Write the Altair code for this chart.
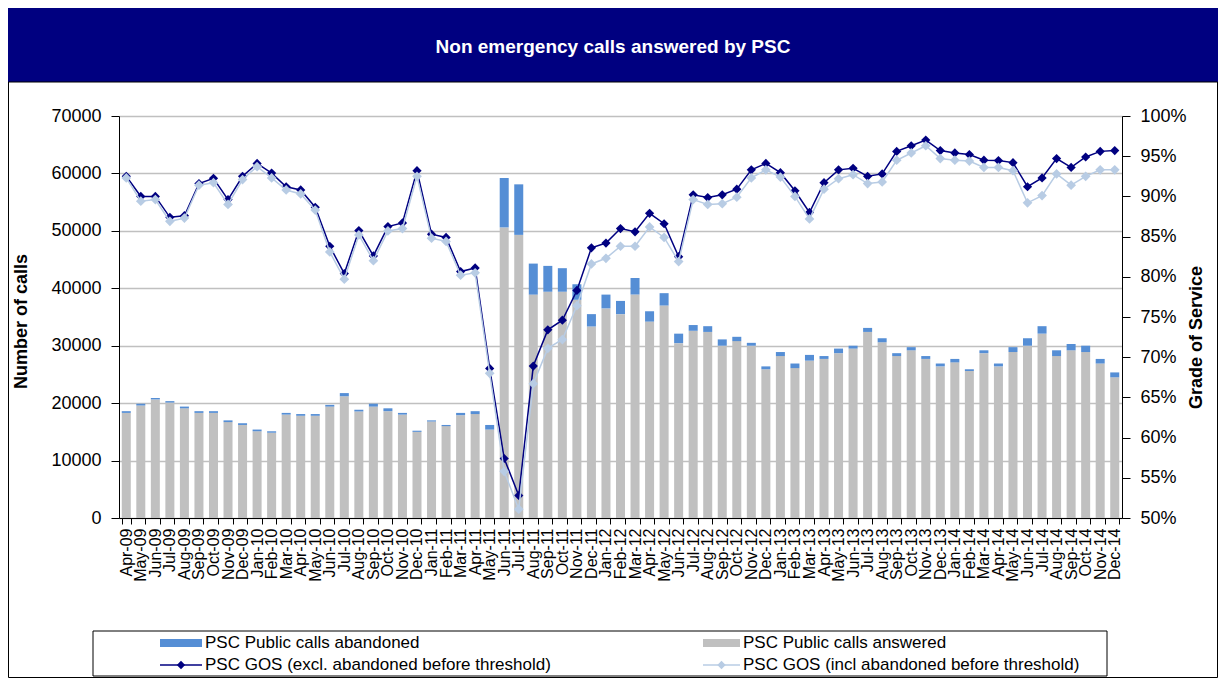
import altair as alt
import pandas as pd

# ---------------- data ----------------
months = [
    "Apr-09", "May-09", "Jun-09", "Jul-09", "Aug-09", "Sep-09", "Oct-09", "Nov-09", "Dec-09",
    "Jan-10", "Feb-10", "Mar-10", "Apr-10", "May-10", "Jun-10", "Jul-10", "Aug-10", "Sep-10", "Oct-10", "Nov-10", "Dec-10",
    "Jan-11", "Feb-11", "Mar-11", "Apr-11", "May-11", "Jun-11", "Jul-11", "Aug-11", "Sep-11", "Oct-11", "Nov-11", "Dec-11",
    "Jan-12", "Feb-12", "Mar-12", "Apr-12", "May-12", "Jun-12", "Jul-12", "Aug-12", "Sep-12", "Oct-12", "Nov-12", "Dec-12",
    "Jan-13", "Feb-13", "Mar-13", "Apr-13", "May-13", "Jun-13", "Jul-13", "Aug-13", "Sep-13", "Oct-13", "Nov-13", "Dec-13",
    "Jan-14", "Feb-14", "Mar-14", "Apr-14", "May-14", "Jun-14", "Jul-14", "Aug-14", "Sep-14", "Oct-14", "Nov-14", "Dec-14",
]

answered = [
    18300, 19600, 20650, 20100, 19100, 18300, 18300, 16700, 16200,
    15100, 14850, 18000, 17800, 17800, 19400, 21200, 18550, 19400, 18600, 18000, 15000,
    16800, 16000, 17900, 18100, 15400, 50600, 49300, 38900, 39400, 39400, 38000, 33350,
    36500, 35500, 38900, 34200, 37000, 30450, 32600, 32400, 30000, 30800, 30000, 25900,
    28200, 26100, 27400, 27700, 28700, 29500, 32400, 30600, 28200, 29200, 27700, 26400,
    27100, 25600, 28700, 26400, 28900, 30000, 32100, 28200, 29200, 28900, 26900, 24500,
]

abandoned = [
    300, 300, 250, 250, 300, 300, 300, 300, 300,
    300, 250, 300, 300, 300, 300, 550, 300, 500, 500, 300, 200,
    200, 200, 400, 500, 800, 8600, 8800, 5400, 4500, 4100, 2700, 2150,
    2400, 2300, 2900, 1800, 2150, 1650, 1000, 1000, 1100, 750, 500, 500,
    700, 800, 1000, 500, 800, 500, 700, 700, 500, 550, 500, 500,
    600, 300, 500, 500, 850, 1300, 1300, 1000, 1100, 1100, 800, 850,
]

gos_excl = [
    92.5, 90.0, 90.0, 87.4, 87.6, 91.6, 92.25, 89.6, 92.5,
    94.1, 92.9, 91.2, 90.8, 88.65, 83.8, 80.4, 85.75, 82.6, 86.25, 86.7, 93.2,
    85.3, 84.9, 80.65, 81.1, 68.6, 57.4, 52.8, 68.9, 73.4, 74.6, 78.3, 83.6,
    84.2, 86.0, 85.6, 87.9, 86.6, 82.5, 90.2, 89.85, 90.2, 90.9, 93.3, 94.1,
    92.95, 90.7, 88.0, 91.7, 93.3, 93.5, 92.5, 92.8, 95.6, 96.3, 97.0, 95.7,
    95.4, 95.2, 94.5, 94.45, 94.2, 91.2, 92.3, 94.7, 93.6, 94.9, 95.6, 95.7,
]

gos_incl = [
    92.3, 89.4, 89.6, 86.9, 87.3, 91.4, 91.7, 89.0, 92.1,
    93.7, 92.3, 90.8, 90.3, 88.3, 83.1, 79.7, 85.2, 82.0, 85.7, 86.0, 92.5,
    84.8, 84.4, 80.2, 80.5, 68.0, 55.8, 51.1, 66.7, 71.1, 72.2, 76.4, 81.6,
    82.3, 83.8, 83.8, 86.2, 84.9, 81.9, 89.6, 89.0, 89.1, 89.9, 92.3, 93.3,
    92.4, 90.0, 87.2, 90.9, 92.2, 92.7, 91.6, 91.8, 94.5, 95.4, 96.3, 94.7,
    94.5, 94.4, 93.6, 93.6, 93.2, 89.2, 90.1, 92.8, 91.4, 92.5, 93.3, 93.3,
]

left_ticks = [0, 10000, 20000, 30000, 40000, 50000, 60000, 70000]
right_ticks = [0.50, 0.55, 0.60, 0.65, 0.70, 0.75, 0.80, 0.85, 0.90, 0.95, 1.00]

TITLE = "Non emergency calls answered by PSC"
SER_ABN = "PSC Public calls abandoned"
SER_ANS = "PSC Public calls answered"
SER_EX = "PSC GOS (excl. abandoned before threshold)"
SER_IN = "PSC GOS (incl abandoned before threshold)"

# ---------------- styling ----------------
FONT = "Liberation Sans, Arial, Helvetica, sans-serif"
W, H = 1003, 402
NAVY = "#000080"
GRAY = "#C0C0C0"
BLUE = "#558ED5"
LIGHT = "#B8CCE4"

n = len(months)
bar_df = pd.DataFrame({
    "month": months * 2,
    "series": [SER_ANS] * n + [SER_ABN] * n,
    "calls": answered + abandoned,
    "ord": [0] * n + [1] * n,
})
ex_df = pd.DataFrame({"month": months, "gos": [v / 100 for v in gos_excl]})
in_df = pd.DataFrame({"month": months, "gos": [v / 100 for v in gos_incl]})

x_axis = alt.Axis(
    title=None, labelAngle=-90, labelFontSize=16, labelFont=FONT, labelColor="black",
    labelPadding=4, tickSize=6, tickBand="extent", tickColor="black", domainColor="black",
    labelOverlap=False, grid=False,
)
x_scale = alt.Scale(type="band", paddingInner=0.38, paddingOuter=0.19)
x_enc = alt.X("month:N", sort=months, scale=x_scale, axis=x_axis)

bars = alt.Chart(bar_df).mark_bar().encode(
    x=x_enc,
    y=alt.Y(
        "calls:Q", stack="zero",
        scale=alt.Scale(domain=[0, 70000], nice=False),
        axis=alt.Axis(
            title="Number of calls", values=left_ticks, format="d", grid=True,
            gridColor=GRAY, gridWidth=1.5, tickSize=8, labelPadding=10,
            labelFontSize=18, labelFont=FONT, labelColor="black",
            tickColor="black", domainColor="black",
            titleFont=FONT, titleFontSize=18, titleFontWeight="bold", titleColor="black",
            titleAngle=270, titleX=-98, titleY=205, titleAlign="center", titleBaseline="middle",
        ),
    ),
    color=alt.Color("series:N", scale=alt.Scale(domain=[SER_ANS, SER_ABN], range=[GRAY, BLUE]), legend=None),
    order=alt.Order("ord:Q"),
)

y_axis_r = alt.Axis(
    orient="right", title="Grade of Service", values=right_ticks, format=".0%", grid=False,
    tickSize=8, labelPadding=10, labelFontSize=18, labelFont=FONT, labelColor="black",
    tickColor="black", domainColor="black",
    titleFont=FONT, titleFontSize=18, titleFontWeight="bold", titleColor="black",
    titleAngle=270, titleX=74, titleY=221, titleAlign="center", titleBaseline="middle",
)
y_scale_r = alt.Scale(domain=[0.5, 1.0], nice=False, zero=False)
y_enc_r = alt.Y("gos:Q", scale=y_scale_r, axis=y_axis_r)

ex_line = alt.Chart(ex_df).mark_line(color=NAVY, strokeWidth=1.5).encode(x=x_enc, y=y_enc_r)
ex_pts = alt.Chart(ex_df).mark_point(shape="diamond", filled=True, color=NAVY, size=85, opacity=1).encode(x=x_enc, y=y_enc_r)
in_line = alt.Chart(in_df).mark_line(color=LIGHT, strokeWidth=1.5).encode(x=x_enc, y=y_enc_r)
in_pts = alt.Chart(in_df).mark_point(shape="diamond", filled=True, color=LIGHT, size=95, opacity=1).encode(x=x_enc, y=y_enc_r)
lines = alt.layer(ex_line, ex_pts, in_line, in_pts)

# ---------------- decorations: title band, legend, border ----------------
one = pd.DataFrame({"k": [0]})

band = alt.Chart(one).mark_rect(color=NAVY).encode(
    x=alt.value(-111), x2=alt.value(1099), y=alt.value(-108), y2=alt.value(-34))
title = alt.Chart(one).mark_text(
    text=TITLE, font=FONT, fontSize=19, fontWeight="bold", color="white",
    align="center", baseline="middle").encode(x=alt.value(494), y=alt.value(-69))
border = alt.Chart(one).mark_rect(filled=False, color="black", strokeWidth=1).encode(
    x=alt.value(-110.5), x2=alt.value(1098.5), y=alt.value(-34), y2=alt.value(561.5))

leg_box = alt.Chart(one).mark_rect(filled=False, color="black", strokeWidth=1).encode(
    x=alt.value(-26), x2=alt.value(988), y=alt.value(515), y2=alt.value(560))
leg_sw1 = alt.Chart(one).mark_rect(color=BLUE).encode(
    x=alt.value(41), x2=alt.value(83), y=alt.value(523), y2=alt.value(531))
leg_sw2 = alt.Chart(one).mark_rect(color=GRAY).encode(
    x=alt.value(584), x2=alt.value(621), y=alt.value(523), y2=alt.value(531))
leg_ln1 = alt.Chart(one).mark_rule(color=NAVY, strokeWidth=1.5).encode(
    x=alt.value(41), x2=alt.value(83), y=alt.value(549))
leg_pt1 = alt.Chart(one).mark_point(shape="diamond", filled=True, color=NAVY, size=70, opacity=1).encode(
    x=alt.value(62), y=alt.value(549))
leg_ln2 = alt.Chart(one).mark_rule(color=LIGHT, strokeWidth=1.5).encode(
    x=alt.value(584), x2=alt.value(621), y=alt.value(549))
leg_pt2 = alt.Chart(one).mark_point(shape="diamond", filled=True, color=LIGHT, size=70, opacity=1).encode(
    x=alt.value(602.5), y=alt.value(549))


def leg_text(label, x, y):
    return alt.Chart(one).mark_text(
        text=label, font=FONT, fontSize=17, color="black", align="left", baseline="middle"
    ).encode(x=alt.value(x), y=alt.value(y))


legend_layers = [
    leg_box, leg_sw1, leg_sw2, leg_ln1, leg_pt1, leg_ln2, leg_pt2,
    leg_text(SER_ABN, 86, 527), leg_text(SER_ANS, 624, 527),
    leg_text(SER_EX, 86, 549), leg_text(SER_IN, 624, 549),
]

chart = alt.layer(
    bars, lines, band, title, border, *legend_layers
).resolve_scale(
    y="independent"
).properties(
    width=W, height=H,
    padding={"left": 111, "top": 108, "right": 96, "bottom": 160},
    autosize=alt.AutoSizeParams(type="none"),
    background="white",
).configure_view(strokeWidth=0)

chart.save("out.html", embed_options={"renderer": "svg", "actions": False})
